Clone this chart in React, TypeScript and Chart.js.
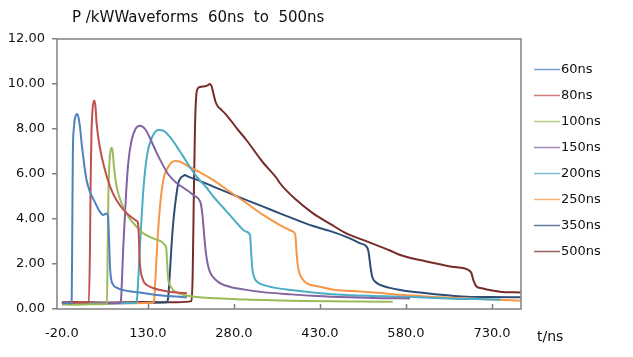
import { useEffect, useRef } from "react";
import { Chart, registerables } from "chart.js";

Chart.register(...registerables);

const chartTitle = "Waveforms  60ns  to  500ns";
const yTitle = "P /kW";
const xTitle = "t/ns";

const seriesLabels = ["60ns", "80ns", "100ns", "150ns", "200ns", "250ns", "350ns", "500ns"];
const seriesColors = ["#4F81BD", "#C0504D", "#9BBB59", "#8064A2", "#4BACC6", "#F79646", "#2C4D75", "#772C2A"];

const xTicks = [-20, 130, 280, 430, 580, 730];
const yTicks = [0, 2, 4, 6, 8, 10, 12];

const t60 = [-20, -12, -5, -3, -2, -1, 1, 3, 6.5, 9, 11.5, 14, 17, 20, 23, 29, 37.5, 46, 52, 58, 60.5, 62, 64, 66, 69.5, 78, 87, 100, 116, 130, 145, 165, 185, 198];
const p60 = [0.25, 0.27, 0.25, 0.3, 3.5, 6.8, 8.1, 8.5, 8.67, 8.5, 8.1, 7.45, 6.8, 6.2, 5.72, 5.2, 4.75, 4.33, 4.18, 4.25, 4.1, 3.2, 1.8, 1.3, 1.07, 0.92, 0.84, 0.78, 0.73, 0.68, 0.62, 0.58, 0.54, 0.52];

const t80 = [-20, -5, 10, 27, 28.8, 30, 31.5, 33.5, 36.4, 38.5, 40.5, 46, 55, 64, 75, 90, 104, 110, 112.5, 114, 115.5, 117.5, 120, 123, 128, 140, 151, 165, 180, 198];
const p80 = [0.3, 0.28, 0.3, 0.3, 2.5, 5.5, 7.8, 8.9, 9.27, 9.0, 8.25, 7.2, 6.18, 5.44, 4.84, 4.33, 4.03, 3.92, 3.85, 3.3, 2.2, 1.65, 1.4, 1.2, 1.07, 0.92, 0.84, 0.78, 0.73, 0.7];

const t100 = [-20, 0, 30, 58.5, 59.7, 61, 63, 65, 66.7, 68.5, 70.7, 75.4, 84, 96, 110, 122, 139, 154, 159.6, 162, 163.5, 165.5, 170, 174, 185, 197, 230, 260, 300, 360, 400, 450, 500, 557];
const p100 = [0.2, 0.19, 0.21, 0.22, 2.5, 5.0, 6.6, 7.05, 7.17, 7.0, 6.33, 5.44, 4.7, 4.1, 3.66, 3.36, 3.14, 2.99, 2.84, 2.7, 2.0, 1.29, 1.0, 0.84, 0.68, 0.6, 0.5, 0.47, 0.42, 0.38, 0.36, 0.34, 0.33, 0.32];

const t150 = [-20, 0, 40, 81, 83, 85, 87, 91.6, 95.6, 101.5, 109, 116, 125, 133.5, 145, 155, 165, 180, 197, 210, 218, 222, 225, 228, 231, 235, 240, 248, 258, 275, 295, 330, 380, 424, 480, 535, 587];
const p150 = [0.25, 0.26, 0.25, 0.27, 0.4, 1.5, 2.77, 5.0, 6.47, 7.5, 8.03, 8.15, 8.0, 7.6, 6.95, 6.45, 6.0, 5.6, 5.3, 5.05, 4.9, 4.7, 4.2, 3.3, 2.5, 1.9, 1.55, 1.3, 1.12, 0.97, 0.88, 0.75, 0.65, 0.58, 0.52, 0.48, 0.47];

const t200 = [-20, 0, 50, 109, 111, 113.5, 116, 119, 122, 128, 136.5, 148, 156.7, 168, 186, 203, 215, 232, 244, 261, 273, 290, 300, 308, 310, 312, 316, 322, 331, 350, 380, 430, 476, 520, 570, 620, 660, 700, 745];
const p200 = [0.25, 0.24, 0.26, 0.27, 0.45, 1.5, 2.77, 4.1, 5.29, 6.77, 7.59, 7.96, 7.93, 7.66, 7.0, 6.32, 5.88, 5.4, 5.0, 4.51, 4.17, 3.68, 3.45, 3.29, 2.5, 1.8, 1.36, 1.18, 1.07, 0.95, 0.84, 0.7, 0.62, 0.58, 0.55, 0.5, 0.46, 0.44, 0.42];

const t250 = [-20, 0, 60, 139, 141, 143, 146, 151, 156.7, 165.5, 177, 186, 203, 215, 244, 273, 302, 331, 360, 383, 387, 389, 391, 394, 399, 407, 430, 453, 488, 530, 570, 620, 686, 730, 780];
const p250 = [0.25, 0.26, 0.25, 0.28, 0.45, 1.3, 2.77, 4.55, 5.73, 6.32, 6.58, 6.55, 6.3, 6.15, 5.73, 5.21, 4.7, 4.18, 3.73, 3.44, 3.3, 2.6, 2.0, 1.6, 1.35, 1.14, 0.99, 0.86, 0.8, 0.72, 0.63, 0.55, 0.47, 0.42, 0.37];

const t350 = [-20, 0, 60, 120, 163, 165.5, 168, 171, 174, 177, 183, 188, 191.6, 194, 200, 215, 244, 273, 302, 331, 360, 389, 418, 447, 482, 500, 512, 515, 518, 521, 527, 535, 550, 570, 600, 627, 686, 730, 780];
const p350 = [0.25, 0.27, 0.26, 0.28, 0.3, 0.55, 1.5, 2.77, 3.8, 4.55, 5.59, 5.85, 5.91, 5.96, 5.88, 5.75, 5.44, 5.14, 4.84, 4.55, 4.25, 3.96, 3.69, 3.47, 3.14, 2.92, 2.75, 2.5, 1.9, 1.44, 1.2, 1.07, 0.95, 0.84, 0.74, 0.67, 0.55, 0.53, 0.52];

const t500 = [-20, 0, 60, 120, 180, 206, 208, 210, 212, 214, 217, 221, 229, 234, 238, 241, 244, 248, 252, 258, 267, 285, 302, 325, 331, 355, 360, 389, 418, 450, 476, 505, 535, 552, 570, 600, 622, 660, 690, 694, 698, 703, 712, 721, 744, 780];
const p500 = [0.3, 0.31, 0.29, 0.31, 0.3, 0.35, 1.5, 5.0, 8.0, 9.4, 9.8, 9.87, 9.9, 9.94, 10.0, 9.9, 9.6, 9.2, 9.0, 8.85, 8.62, 8.03, 7.5, 6.7, 6.5, 5.8, 5.6, 4.84, 4.25, 3.75, 3.36, 3.07, 2.77, 2.6, 2.4, 2.2, 2.08, 1.88, 1.72, 1.6, 1.25, 1.0, 0.92, 0.87, 0.77, 0.73];

const seriesT = [t60, t80, t100, t150, t200, t250, t350, t500];
const seriesP = [p60, p80, p100, p150, p200, p250, p350, p500];

const FONT = "'DejaVu Sans', sans-serif";

const decorPlugin = {
  id: "decor",
  afterDatasetsDraw(chart: any) {
    const { ctx, chartArea: a, scales } = chart;
    ctx.save();
    // plot border
    ctx.strokeStyle = "#808080";
    ctx.lineWidth = 1.5;
    ctx.strokeRect(a.left, a.top, a.right - a.left, a.bottom - a.top);
    // inner x tick marks
    ctx.beginPath();
    xTicks.slice(1).forEach((v) => {
      const x = Math.round(scales.x.getPixelForValue(v)) + 0.5;
      ctx.moveTo(x, a.bottom);
      ctx.lineTo(x, a.bottom - 5);
    });
    ctx.stroke();
    // titles
    ctx.fillStyle = "#111";
    ctx.textAlign = "left";
    ctx.textBaseline = "alphabetic";
    ctx.font = "15px " + FONT;
    ctx.fillText(yTitle, 72, 22);
    const w = ctx.measureText(yTitle).width;
    ctx.fillText(chartTitle, 72 + w, 22);
    ctx.font = "14px " + FONT;
    ctx.fillText(xTitle, 537, 341);
    // legend
    ctx.font = "13px " + FONT;
    ctx.textBaseline = "middle";
    chart.data.datasets.forEach((d: any, i: number) => {
      const y = 69 + 26 * i;
      ctx.strokeStyle = d.borderColor;
      ctx.globalAlpha = 0.75;
      ctx.lineWidth = 1.5;
      ctx.beginPath();
      ctx.moveTo(534, y + 0.5);
      ctx.lineTo(560, y + 0.5);
      ctx.stroke();
      ctx.globalAlpha = 1;
      ctx.fillStyle = "#111";
      ctx.fillText(d.label, 561, y + 1);
    });
    ctx.restore();
  },
};

export default function App() {
  const ref = useRef<HTMLCanvasElement | null>(null);
  useEffect(() => {
    if (!ref.current) return;
    const datasets = seriesLabels.map((label, i) => ({
      label,
      data: seriesT[i].map((x, j) => ({ x, y: seriesP[i][j] })),
      borderColor: seriesColors[i],
      backgroundColor: seriesColors[i],
      borderWidth: 2,
      pointRadius: 0,
      cubicInterpolationMode: "monotone" as const,
      fill: false,
    }));
    const chart = new Chart(ref.current, {
      type: "line",
      data: { datasets },
      options: {
        animation: false,
        responsive: false,
        layout: { padding: { left: 0, top: 39, right: 112, bottom: 0 } },
        plugins: { legend: { display: false }, title: { display: false }, tooltip: { enabled: false } },
        scales: {
          x: {
            type: "linear",
            min: -28.6,
            max: 780.6,
            afterBuildTicks: (s: any) => {
              s.ticks = xTicks.map((v) => ({ value: v }));
            },
            afterFit: (s: any) => {
              s.height = 48;
            },
            grid: { display: false },
            border: { display: false },
            ticks: {
              autoSkip: false,
              maxRotation: 0,
              padding: 9,
              color: "#111",
              font: { family: FONT, size: 13 },
              callback: (v: any) => Number(v).toFixed(1),
            },
          },
          y: {
            type: "linear",
            min: 0,
            max: 12,
            afterBuildTicks: (s: any) => {
              s.ticks = yTicks.map((v) => ({ value: v }));
            },
            afterFit: (s: any) => {
              s.width = 57;
            },
            grid: { drawOnChartArea: false, drawTicks: true, tickLength: 5, color: "#808080", lineWidth: 1.5 },
            border: { display: false },
            ticks: {
              padding: 7,
              color: "#111",
              font: { family: FONT, size: 13 },
              callback: (v: any) => Number(v).toFixed(2),
            },
          },
        },
      },
      plugins: [decorPlugin],
    });
    return () => chart.destroy();
  }, []);
  return (
    <div style={{ position: "fixed", left: 0, top: 0, width: 633, height: 357, background: "#fff" }}>
      <canvas ref={ref} width={633} height={357} />
    </div>
  );
}
